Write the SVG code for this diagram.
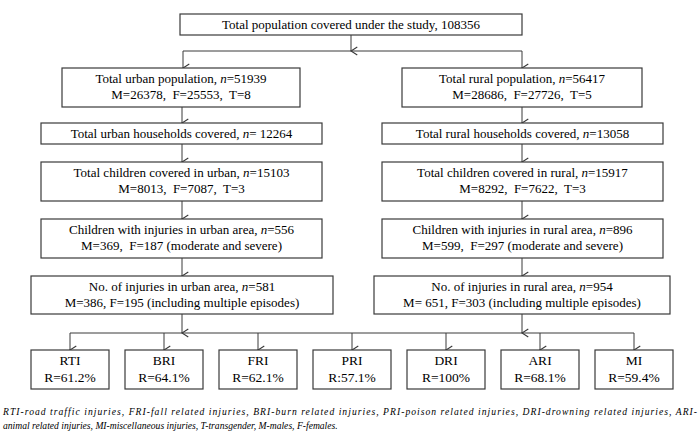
<svg xmlns="http://www.w3.org/2000/svg" width="700" height="431" viewBox="0 0 700 431">
<defs>
<style>
.box{fill:#fff;stroke:#3a3a3a;stroke-width:1.2}
.t{font-family:"Liberation Serif","Times New Roman",serif;font-size:13px;fill:#000;text-anchor:middle;white-space:pre}
.b{font-family:"Liberation Serif","Times New Roman",serif;font-size:13.5px;fill:#000;text-anchor:middle}
.i{font-style:italic}
.c{fill:none;stroke:#3a3a3a;stroke-width:1}
.a{marker-end:url(#ah)}
.fn{font-family:"Liberation Serif","Times New Roman",serif;font-size:9.6px;font-style:italic;fill:#000}
</style>
<marker id="ah" markerUnits="userSpaceOnUse" markerWidth="10" markerHeight="8" refX="4" refY="6" orient="auto-start-reverse" viewBox="0 0 8 7">
<path d="M0.5,0.5 L4,6 L7.5,0.5" fill="none" stroke="#3a3a3a" stroke-width="1"/>
</marker>
</defs>
<rect width="700" height="431" fill="#fff"/>

<g id="connectors">
<path class="c a" d="M351,35 V51"/>
<path class="c" d="M183,51 H522"/>
<path class="c a" d="M183,51 V68"/>
<path class="c a" d="M522,51 V68"/>
<path class="c a" d="M182,107 V123"/>
<path class="c a" d="M182,144 V162"/>
<path class="c a" d="M182,201 V219"/>
<path class="c a" d="M182,258 V276"/>
<path class="c a" d="M182,314 V333"/>
<path class="c a" d="M522,107 V123"/>
<path class="c a" d="M522,144 V162"/>
<path class="c a" d="M522,201 V219"/>
<path class="c a" d="M522,258 V276"/>
<path class="c a" d="M522,314 V333"/>
<path class="c" d="M70,333 H634"/>
<path class="c a" d="M70,333 V350"/>
<path class="c a" d="M164,333 V350"/>
<path class="c a" d="M258,333 V350"/>
<path class="c a" d="M352,333 V350"/>
<path class="c a" d="M446,333 V350"/>
<path class="c a" d="M540,333 V350"/>
<path class="c a" d="M634,333 V350"/>
</g>

<g id="total">
<rect class="box" x="180" y="14" width="342" height="21"/>
<text class="t" x="351" y="29">Total population covered under the study, 108356</text>
</g>

<g id="urban-pop">
<rect class="box" x="62" y="68" width="238" height="39"/>
<text class="t" x="181" y="83">Total urban population, <tspan class="i">n</tspan>=51939</text>
<text class="t" x="181" y="99">M=26378,  F=25553,  T=8</text>
</g>
<g id="rural-pop">
<rect class="box" x="402" y="68" width="240" height="39"/>
<text class="t" x="522" y="83">Total rural population, <tspan class="i">n</tspan>=56417</text>
<text class="t" x="522" y="99">M=28686,  F=27726,  T=5</text>
</g>

<g id="urban-hh">
<rect class="box" x="41" y="123" width="281" height="21"/>
<text class="t" x="181.5" y="138">Total urban households covered, <tspan class="i">n</tspan>= 12264</text>
</g>
<g id="rural-hh">
<rect class="box" x="382" y="123" width="281" height="21"/>
<text class="t" x="522.5" y="138">Total rural households covered, <tspan class="i">n</tspan>=13058</text>
</g>

<g id="urban-children">
<rect class="box" x="41" y="162" width="281" height="39"/>
<text class="t" x="181.5" y="177">Total children covered in urban, <tspan class="i">n</tspan>=15103</text>
<text class="t" x="181.5" y="193">M=8013,  F=7087,  T=3</text>
</g>
<g id="rural-children">
<rect class="box" x="382" y="162" width="281" height="39"/>
<text class="t" x="522.5" y="177">Total children covered in rural, <tspan class="i">n</tspan>=15917</text>
<text class="t" x="522.5" y="193">M=8292,  F=7622,  T=3</text>
</g>

<g id="urban-injured">
<rect class="box" x="41" y="219" width="281" height="39"/>
<text class="t" x="181.5" y="234">Children with injuries in urban area, <tspan class="i">n</tspan>=556</text>
<text class="t" x="181.5" y="250">M=369,  F=187 (moderate and severe)</text>
</g>
<g id="rural-injured">
<rect class="box" x="382" y="219" width="281" height="39"/>
<text class="t" x="522.5" y="234">Children with injuries in rural area, <tspan class="i">n</tspan>=896</text>
<text class="t" x="522.5" y="250">M=599,  F=297 (moderate and severe)</text>
</g>

<g id="urban-injuries">
<rect class="box" x="31" y="276" width="302" height="38"/>
<text class="t" x="182" y="291">No. of injuries in urban area, <tspan class="i">n</tspan>=581</text>
<text class="t" x="182" y="307">M=386, F=195 (including multiple episodes)</text>
</g>
<g id="rural-injuries">
<rect class="box" x="374" y="276" width="296" height="38"/>
<text class="t" x="522" y="291">No. of injuries in rural area, <tspan class="i">n</tspan>=954</text>
<text class="t" x="522" y="307">M= 651, F=303 (including multiple episodes)</text>
</g>

<g id="rti"><rect class="box" x="31" y="350" width="78" height="39"/><text class="b" x="70" y="365">RTI</text><text class="b" x="70" y="382">R=61.2%</text></g>
<g id="bri"><rect class="box" x="125" y="350" width="78" height="39"/><text class="b" x="164" y="365">BRI</text><text class="b" x="164" y="382">R=64.1%</text></g>
<g id="fri"><rect class="box" x="219" y="350" width="78" height="39"/><text class="b" x="258" y="365">FRI</text><text class="b" x="258" y="382">R=62.1%</text></g>
<g id="pri"><rect class="box" x="313" y="350" width="78" height="39"/><text class="b" x="352" y="365">PRI</text><text class="b" x="352" y="382">R:57.1%</text></g>
<g id="dri"><rect class="box" x="407" y="350" width="78" height="39"/><text class="b" x="446" y="365">DRI</text><text class="b" x="446" y="382">R=100%</text></g>
<g id="ari"><rect class="box" x="501" y="350" width="78" height="39"/><text class="b" x="540" y="365">ARI</text><text class="b" x="540" y="382">R=68.1%</text></g>
<g id="mi"><rect class="box" x="595" y="350" width="78" height="39"/><text class="b" x="634" y="365">MI</text><text class="b" x="634" y="382">R=59.4%</text></g>

<g id="footnote">
<text class="fn" x="3" y="415" textLength="694" lengthAdjust="spacing">RTI-road traffic injuries, FRI-fall related injuries, BRI-burn related injuries, PRI-poison related injuries, DRI-drowning related injuries, ARI-</text>
<text class="fn" x="3" y="429">animal related injuries, MI-miscellaneous injuries, T-transgender, M-males, F-females.</text>
</g>
</svg>
